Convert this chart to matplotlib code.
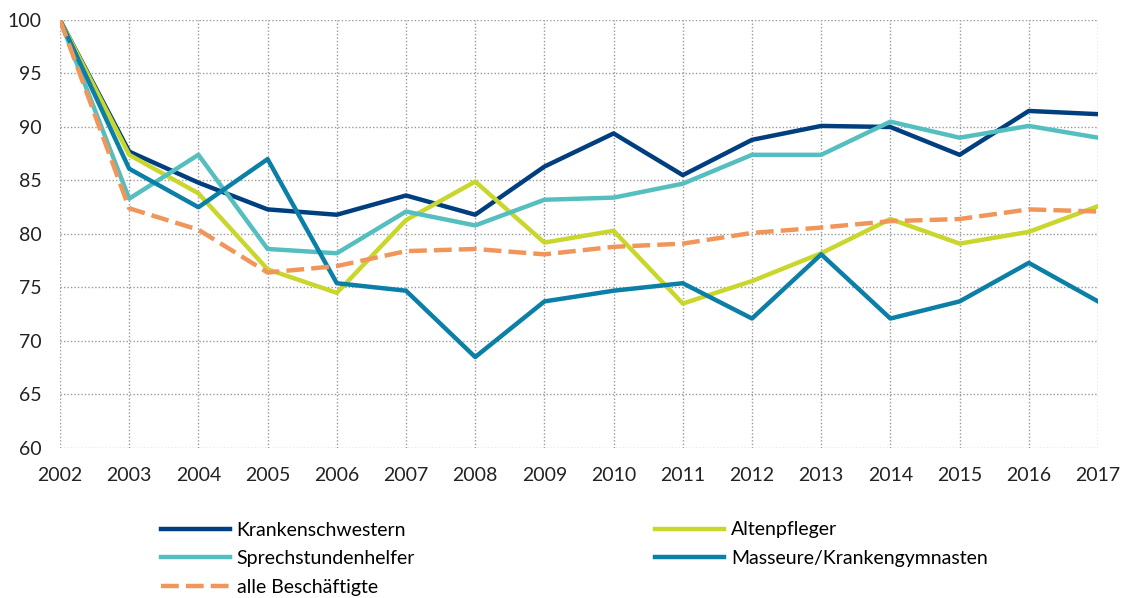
import matplotlib.pyplot as plt

years = list(range(2002, 2018))

krankenschwestern = [100, 87.7, 84.8, 82.3, 81.8, 83.6, 81.8, 86.3, 89.4, 85.5, 88.8, 90.1, 90.0, 87.4, 91.5, 91.2]
altenpfleger = [100, 87.4, 83.8, 76.7, 74.5, 81.3, 84.9, 79.2, 80.3, 73.5, 75.6, 78.2, 81.4, 79.1, 80.2, 82.6]
sprechstundenhelfer = [100, 83.3, 87.4, 78.6, 78.2, 82.1, 80.8, 83.2, 83.4, 84.7, 87.4, 87.4, 90.5, 89.0, 90.1, 89.0]
masseure = [100, 86.1, 82.5, 87.0, 75.4, 74.7, 68.5, 73.7, 74.7, 75.4, 72.1, 78.1, 72.1, 73.7, 77.3, 73.7]
alle = [100, 82.4, 80.4, 76.4, 77.0, 78.4, 78.6, 78.1, 78.8, 79.1, 80.1, 80.6, 81.2, 81.4, 82.3, 82.1]

plt.rcParams['font.family'] = ['Lato', 'DejaVu Sans']

fig = plt.figure(figsize=(11.26, 5.98), dpi=100)
ax = fig.add_axes([60 / 1126, 1 - 448 / 598, 1038 / 1126, 428 / 598])

lw = 3.2
h_k, = ax.plot(years, krankenschwestern, color='#003F7F', lw=lw, label='Krankenschwestern')
h_a, = ax.plot(years, altenpfleger, color='#C9D62C', lw=lw, label='Altenpfleger')
h_s, = ax.plot(years, sprechstundenhelfer, color='#55BFC0', lw=lw, label='Sprechstundenhelfer')
h_m, = ax.plot(years, masseure, color='#0B7FA6', lw=lw, label='Masseure/Krankengymnasten')
h_al, = ax.plot(years, alle, color='#F0965A', lw=lw, ls=(0, (4, 1.6)), label='alle Beschäftigte')

ax.set_xlim(2002, 2017)
ax.set_ylim(60, 100)
ax.set_xticks(years)
ax.set_yticks(range(60, 101, 5))
ax.grid(True, color='#999999', ls=(0, (1, 1.5)), lw=1)
ax.set_axisbelow(True)
for s in ax.spines.values():
    s.set_visible(False)
ax.tick_params(length=0, labelsize=14, colors='#222222')
ax.tick_params(axis='x', pad=14)
ax.tick_params(axis='y', pad=13)

handles = [h_k, h_s, h_al, h_a, h_m]
fig.legend(handles, [h.get_label() for h in handles],
           ncol=2, loc='upper left', bbox_to_anchor=(143 / 1126, 1 - 504 / 598),
           frameon=False, fontsize=14, handlelength=3.55, handletextpad=0.36,
           columnspacing=12.35, labelspacing=0.6)

fig.savefig('out.png', dpi=100)
